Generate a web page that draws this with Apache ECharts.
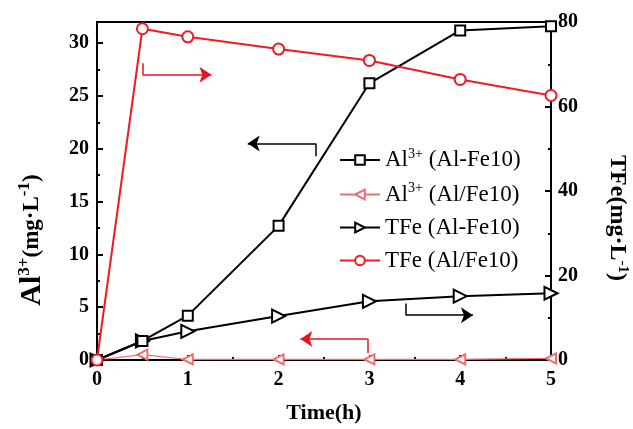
<!DOCTYPE html>
<html>
<head>
<meta charset="utf-8">
<script src="https://cdn.jsdelivr.net/npm/echarts@6/dist/echarts.min.js"></script>
<style>
  html, body { margin: 0; padding: 0; background: #fff; }
  #main { width: 633px; height: 429px; }
</style>
</head>
<body>
<div id="main"></div>
<script type="text/javascript">
    // 时间(h)
    var hours = [0, 0.5, 1, 2, 3, 4, 5];
    // Al3+ 浓度 (左轴)
    var alAlFe10 = [0, 1.8, 4.2, 12.7, 26.2, 31.2, 31.6];
    var alAlSlashFe10 = [0, 0.5, 0.05, 0.05, 0.05, 0.05, 0.15];
    // TFe 浓度 (右轴)
    var tfeAlFe10 = [0, 4.5, 6.8, 10.4, 13.9, 15.1, 15.8];
    var tfeAlSlashFe10 = [0, 78.4, 76.5, 73.6, 70.9, 66.4, 62.6];
    // 箭头 (左轴坐标): 尾段起点, 拐点, 箭头尖
    var arrowColors = ['#000', '#000', '#e8141b', '#e8141b'];
    var arrowStart = [[2.41, 19.3], [3.40, 5.36], [0.50, 28.1], [2.98, 0.66]];
    var arrowBend = [[2.41, 20.5], [3.40, 4.24], [0.50, 27.0], [2.98, 1.98]];
    var arrowTip = [[1.66, 20.5], [4.14, 4.24], [1.26, 27.0], [2.24, 1.98]];

    var font = 'Liberation Serif';
    function pairs(ys) {
        return hours.map(function (h, i) { return [h, ys[i]]; });
    }
    var tails = [], heads = [];
    for (var i = 0; i < arrowStart.length; i++) {
        tails.push({coords: [arrowStart[i], arrowBend[i]], lineStyle: {color: arrowColors[i]}});
        heads.push({coords: [arrowBend[i], arrowTip[i]], lineStyle: {color: arrowColors[i]}});
    }

    var axisLabel = {fontFamily: font, fontWeight: 'bold', fontSize: 20, color: '#000'};
    var legendRich = {
        t: {fontFamily: font, fontSize: 23, color: '#000', lineHeight: 26},
        s: {fontFamily: font, fontSize: 14, color: '#000', verticalAlign: 'top', lineHeight: 14}
    };

    var myChart = echarts.init(document.getElementById('main'));
    var option = {
        backgroundColor: '#fff',
        animation: false,
        grid: {left: 97, right: 82, top: 22, bottom: 67, show: true, borderColor: '#000', borderWidth: 2},
        legend: {
            orient: 'vertical',
            left: 334,
            top: 142,
            itemGap: 10,
            itemWidth: 40,
            itemHeight: 12,
            data: ['Al3+ (Al-Fe10)', 'Al3+ (Al/Fe10)', 'TFe (Al-Fe10)', 'TFe (Al/Fe10)'],
            formatter: function (name) {
                if (name.indexOf('Al3+') === 0) {
                    return '{t|Al}{s|3+}{t|' + name.slice(4) + '}';
                }
                return '{t|' + name + '}';
            },
            textStyle: {rich: legendRich}
        },
        xAxis: {
            type: 'value', min: 0, max: 5, interval: 1,
            name: 'Time(h)', nameLocation: 'middle', nameGap: 42,
            nameTextStyle: {fontFamily: font, fontWeight: 'bold', fontSize: 22, color: '#000'},
            axisLine: {lineStyle: {color: '#000', width: 2}},
            axisTick: {inside: true, length: 5, lineStyle: {color: '#000', width: 2}},
            minorTick: {show: true, splitNumber: 2, length: 3, lineStyle: {color: '#000', width: 2}},
            axisLabel: Object.assign({margin: 10}, axisLabel),
            splitLine: {show: false}
        },
        yAxis: [{
            type: 'value', min: 0, max: 32, interval: 5,
            axisLine: {show: true, lineStyle: {color: '#000', width: 2}},
            axisTick: {inside: true, length: 6, lineStyle: {color: '#000', width: 2}},
            minorTick: {show: true, splitNumber: 2, length: 3, lineStyle: {color: '#000', width: 2}},
            axisLabel: Object.assign({margin: 8, showMaxLabel: false}, axisLabel),
            splitLine: {show: false}
        }, {
            type: 'value', min: 0, max: 80, interval: 20, position: 'right',
            axisLine: {show: true, lineStyle: {color: '#000', width: 2}},
            axisTick: {inside: true, length: 6, lineStyle: {color: '#000', width: 2}},
            minorTick: {show: true, splitNumber: 2, length: 3, lineStyle: {color: '#000', width: 2}},
            axisLabel: Object.assign({margin: 7}, axisLabel),
            splitLine: {show: false}
        }],
        graphic: [{
            type: 'text', x: 32, y: 240, rotation: Math.PI / 2,
            style: {
                text: '{a|Al}{s|3+}{b|(mg·L}{s|-1}{b|)}',
                align: 'center', verticalAlign: 'middle',
                rich: {
                    a: {fontFamily: font, fontWeight: 'bold', fontSize: 30, fill: '#000', lineHeight: 32},
                    b: {fontFamily: font, fontWeight: 'bold', fontSize: 23, fill: '#000', lineHeight: 32},
                    s: {fontFamily: font, fontWeight: 'bold', fontSize: 17, fill: '#000', verticalAlign: 'top', lineHeight: 17}
                }
            }
        }, {
            type: 'text', x: 617, y: 218, rotation: -Math.PI / 2,
            style: {
                text: '{b|TFe(mg·L}{s|-1}{b|)}',
                align: 'center', verticalAlign: 'middle',
                rich: {
                    b: {fontFamily: font, fontWeight: 'bold', fontSize: 24, fill: '#000', lineHeight: 26},
                    s: {fontFamily: font, fontWeight: 'bold', fontSize: 15, fill: '#000', verticalAlign: 'top', lineHeight: 15}
                }
            }
        }],
        series: [{
            name: 'Al3+ (Al/Fe10)', type: 'line', yAxisIndex: 0,
            data: pairs(alAlSlashFe10),
            symbol: 'emptyTriangle', symbolSize: 10, symbolRotate: 90,
            lineStyle: {color: '#f26d6d', width: 1.2},
            itemStyle: {color: '#f26d6d', borderWidth: 1.2}
        }, {
            name: 'TFe (Al-Fe10)', type: 'line', yAxisIndex: 1,
            data: pairs(tfeAlFe10),
            symbol: 'emptyTriangle', symbolSize: 13, symbolRotate: -90,
            lineStyle: {color: '#000', width: 2},
            itemStyle: {color: '#000', borderColor: '#555', borderWidth: 1}
        }, {
            name: 'Al3+ (Al-Fe10)', type: 'line', yAxisIndex: 0,
            data: pairs(alAlFe10),
            symbol: 'emptyRect', symbolSize: 10,
            lineStyle: {color: '#000', width: 2},
            itemStyle: {color: '#000', borderColor: '#444', borderWidth: 1}
        }, {
            name: 'TFe (Al/Fe10)', type: 'line', yAxisIndex: 1,
            data: pairs(tfeAlSlashFe10),
            symbol: 'emptyCircle', symbolSize: 11,
            lineStyle: {color: '#ec1c24', width: 2},
            itemStyle: {color: '#ec1c24', borderColor: '#ef5a5a', borderWidth: 1}
        }, {
            type: 'lines', coordinateSystem: 'cartesian2d', yAxisIndex: 0,
            symbol: 'none', lineStyle: {width: 1.5, opacity: 1},
            data: tails, silent: true
        }, {
            type: 'lines', coordinateSystem: 'cartesian2d', yAxisIndex: 0,
            symbol: ['none', 'arrow'], symbolSize: 12,
            lineStyle: {width: 1.5, opacity: 1},
            data: heads, silent: true
        }]
    };
    myChart.setOption(option);
</script>
</body>
</html>
